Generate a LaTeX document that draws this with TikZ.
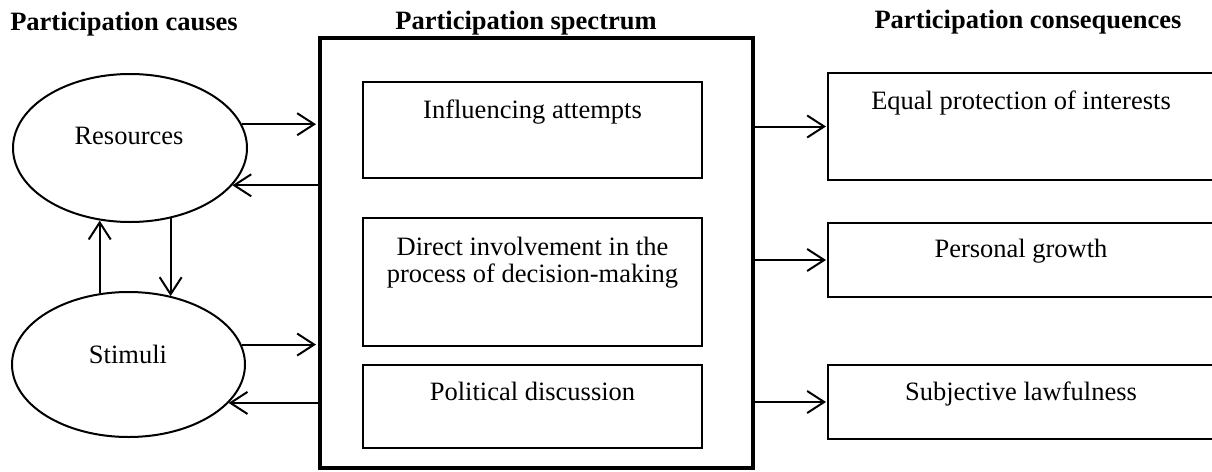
\documentclass[tikz,border=0pt]{standalone}
\usepackage{fontspec}
\setmainfont{Liberation Serif}
\usetikzlibrary{shapes.geometric,arrows.meta}
\begin{document}
\begin{tikzpicture}[x=1pt,y=-1pt,
  arr/.style={line width=2pt,-{Straight Barb[length=17pt,width=22pt]}},
  box/.style={draw,line width=2pt,inner sep=0pt},
  bigbox/.style={draw,line width=4pt,inner sep=0pt},
  ell/.style={draw,ellipse,line width=2pt,inner sep=0pt},
  lbl/.style={anchor=base,inner sep=0pt,font=\fontsize{26.5}{27}\selectfont},
  ttl/.style={anchor=base,inner sep=0pt,font=\fontsize{26.5}{27}\selectfont\bfseries}]
\useasboundingbox (0,0) rectangle (1212,471);

% titles
\node[ttl] (t1) at (124,30) {Participation causes};
\node[ttl] (t2) at (526,29) {Participation spectrum};
\node[ttl] (t3) at (1028,28) {Participation consequences};

% ellipses
\node[ell,minimum width=234pt,minimum height=148pt] (res) at (130,148) {};
\node[ell,minimum width=233pt,minimum height=145pt] (sti) at (128.5,364.5) {};
\node[lbl] (resT) at (129,144) {Resources};
\node[lbl] (stiT) at (128,363) {Stimuli};

% big box
\node[bigbox,minimum width=433pt,minimum height=430pt] (big) at (536.5,253) {};

% inner boxes
\node[box,minimum width=339pt,minimum height=96pt] (in1) at (532.5,130) {};
\node[box,minimum width=339pt,minimum height=128pt] (in2) at (532.5,282) {};
\node[box,minimum width=339pt,minimum height=83pt] (in3) at (532.5,406.5) {};
\node[lbl] (in1T) at (532.5,118) {Influencing attempts};
\node[lbl] (in2Ta) at (532.5,255) {Direct involvement in the};
\node[lbl] (in2Tb) at (532.5,282) {process of decision-making};
\node[lbl] (in3T) at (532.5,400) {Political discussion};

% right boxes
\node[box,minimum width=402pt,minimum height=107pt] (c1) at (1029,126.5) {};
\node[box,minimum width=402pt,minimum height=74pt] (c2) at (1029,260) {};
\node[box,minimum width=402pt,minimum height=74pt] (c3) at (1029,402) {};
\node[lbl] (c1T) at (1021,109) {Equal protection of interests};
\node[lbl] (c2T) at (1021,257) {Personal growth};
\node[lbl] (c3T) at (1021,400) {Subjective lawfulness};

% left arrows
\draw[arr,shorten >=2pt] (res.12.2) -- (res.12.2 -| big.west);
\draw[arr] (res.-20.06 -| big.west) -- (res.-20.06);
\draw[arr,shorten >=2pt] (sti.10.9) -- (sti.10.9 -| big.west);
\draw[arr] (sti.-21.3 -| big.west) -- (sti.-21.3);

% vertical arrows
\draw[arr] (sti.112.1) -- (sti.112.1 |- res.-112.8);
\draw[arr] (res.-60.1) -- (res.-60.1 |- sti.58.5);

% right arrows
\draw[arr,shorten >=1pt] (c1.west -| big.east) -- (c1.west);
\draw[arr,shorten >=1pt] (c2.west -| big.east) -- (c2.west);
\draw[arr,shorten >=1pt] (c3.west -| big.east) -- (c3.west);
\end{tikzpicture}
\end{document}
